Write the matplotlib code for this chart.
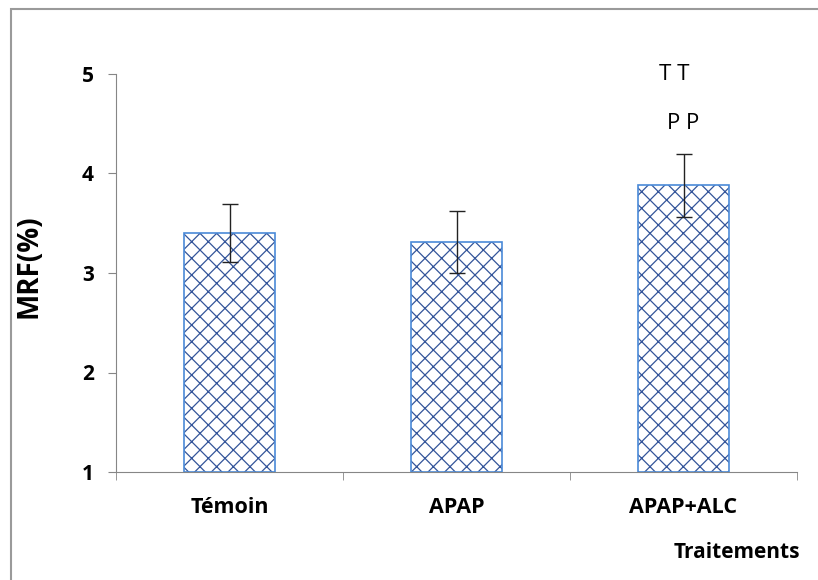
import matplotlib.pyplot as plt
from matplotlib.patches import Rectangle

plt.rcParams['font.family'] = ['Open Sans', 'DejaVu Sans']
plt.rcParams['hatch.linewidth'] = 0.9

groupes = ['Témoin', 'APAP', 'APAP+ALC']
mrf = [3.40, 3.31, 3.88]
erreurs = [0.29, 0.31, 0.32]

fig = plt.figure(figsize=(8.18, 5.8), dpi=100)
fig.patches.append(Rectangle((11 / 818, -0.1), 1.2, 1 - 9 / 580 + 0.1,
                             transform=fig.transFigure, fill=False,
                             edgecolor='#9a9a9a', linewidth=1.5))
ax = fig.add_axes([116 / 818, 108 / 580, 681 / 818, 398 / 580])

x = range(len(groupes))
ax.bar(x, [m - 1 for m in mrf], bottom=1, width=0.405, color='white',
       edgecolor='#34559a', hatch='xx', linewidth=0)
ax.bar(x, [m - 1 for m in mrf], bottom=1, width=0.405, fill=False,
       edgecolor='#4a8ad8', linewidth=1.2)
ax.errorbar(x, mrf, yerr=erreurs, fmt='none', ecolor='#222222',
            elinewidth=1, capsize=5.5, capthick=1)

ax.text(1.96, 4.99, 'T T', ha='center', va='center', fontsize=16)
ax.text(2.0, 4.5, 'P P', ha='center', va='center', fontsize=16)

ax.set_xlim(-0.5, 2.5)
ax.set_ylim(1, 5)
ax.set_yticks([1, 2, 3, 4, 5])
ax.set_xticks(list(x))
ax.set_xticklabels(groupes, fontsize=15.5, fontweight='bold')
ax.set_xticks([-0.5, 0.5, 1.5, 2.5], minor=True)
ax.tick_params(axis='x', which='major', length=0, pad=18)
ax.tick_params(axis='x', which='minor', length=6, color='#868686')
ax.tick_params(axis='y', length=6, color='#868686', pad=10)
for lab in ax.get_yticklabels():
    lab.set_fontsize(15)
    lab.set_fontweight('bold')

for s in ['top', 'right']:
    ax.spines[s].set_visible(False)
for s in ['left', 'bottom']:
    ax.spines[s].set_color('#868686')

ax.set_ylabel('MRF(%)', fontsize=20, fontweight='bold')
ax.yaxis.set_label_coords(-0.106, 0.518)
fig.text(800 / 818, 1 - 552 / 580, 'Traitements', ha='right', va='center',
         fontsize=15, fontweight='bold')

fig.savefig('out.png', dpi=100)
